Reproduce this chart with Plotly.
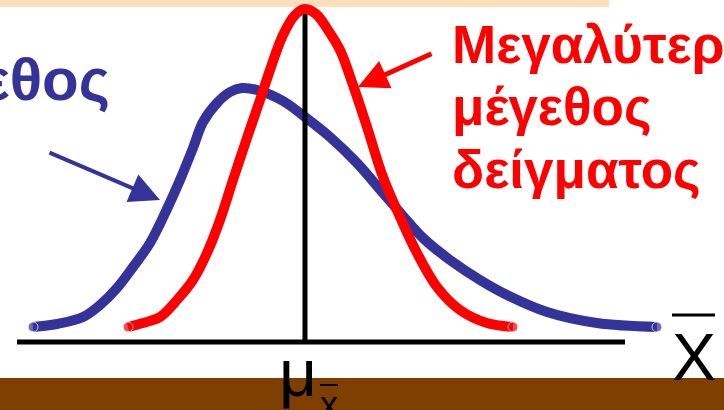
import plotly.graph_objects as go

# curve values (x relative to the mean, y = density height)
blue_x = [-2.72, -2.48, -2.22, -2.05, -1.88, -1.72, -1.55, -1.38, -1.25, -1.12, -1.02, -0.88, -0.75,
          -0.63, -0.48, -0.22, 0.0, 0.25, 0.52, 0.78, 0.98, 1.18, 1.45, 1.75, 2.02, 2.42, 2.92, 3.52]
blue_y = [0.15, 0.18, 0.25, 0.37, 0.54, 0.75, 0.99, 1.33, 1.62, 1.94, 2.20, 2.39, 2.50,
          2.54, 2.52, 2.41, 2.25, 2.05, 1.79, 1.49, 1.26, 1.04, 0.82, 0.62, 0.47, 0.30, 0.19, 0.15]

red_x = [-1.77, -1.62, -1.45, -1.28, -1.12, -0.98, -0.85, -0.72, -0.58, -0.45, -0.35, -0.22, -0.10,
         0.0, 0.11, 0.23, 0.35, 0.48, 0.62, 0.78, 0.95, 1.12, 1.32, 1.55, 1.82, 2.08]
red_y = [0.15, 0.19, 0.25, 0.42, 0.62, 0.89, 1.22, 1.62, 2.04, 2.42, 2.72, 3.07, 3.27,
         3.33, 3.28, 3.12, 2.92, 2.57, 2.15, 1.65, 1.25, 0.89, 0.55, 0.32, 0.19, 0.15]

axis_x = [-2.88, 3.20]
mean_height = 3.29

blue_label = "μέγεθος"
red_lines = ["Μεγαλύτερο", "μέγεθος", "δείγματος"]

BLUE = "#333399"
RED = "#FF0000"


def caps(n, s):
    return [s] + [0] * (n - 2) + [s]


fig = go.Figure()
fig.add_trace(go.Scatter(x=blue_x, y=blue_y, mode="lines+markers", line=dict(color=BLUE, width=10, shape="spline"),
                         marker=dict(size=caps(len(blue_x), 10), color=BLUE)))
fig.add_trace(go.Scatter(x=axis_x, y=[0, 0], mode="lines", line=dict(color="black", width=5)))
fig.add_trace(go.Scatter(x=[0, 0], y=[0, mean_height], mode="lines", line=dict(color="black", width=5)))
fig.add_trace(go.Scatter(x=red_x, y=red_y, mode="lines+markers", line=dict(color=RED, width=10, shape="spline"),
                         marker=dict(size=caps(len(red_x), 10), color=RED)))

# background bars
fig.add_shape(type="rect", xref="paper", yref="paper", x0=0, x1=1, y0=0, y1=32 / 410,
              fillcolor="#7F3F00", line_width=0, layer="below")
fig.add_shape(type="rect", xref="paper", yref="paper", x0=0, x1=609 / 724, y0=1 - 7 / 410, y1=1,
              fillcolor="#FDDFBB", line_width=0, layer="below")

# bars over x
fig.add_shape(type="line", x0=3.67, x1=4.10, y0=0.27, y1=0.27, line=dict(color="black", width=3))
fig.add_shape(type="line", x0=0.15, x1=0.33, y0=-0.43, y1=-0.43, line=dict(color="black", width=2))

fnt = "Liberation Sans"
fig.add_annotation(x=1.12 - 3.05, y=2.63, text=blue_label, showarrow=False, xanchor="right", yanchor="middle",
                   font=dict(family=fnt, size=60, color=BLUE, weight="bold"))
for i, ln in enumerate(red_lines):
    fig.add_annotation(x=1.45, y=2.98 - 0.63 * i, text=ln, showarrow=False, xanchor="left", yanchor="middle",
                       font=dict(family=fnt, size=53, color=RED, weight="bold"))

fig.add_annotation(x=3.885, y=-0.15, text="X", showarrow=False, xanchor="center", yanchor="middle",
                   font=dict(family=fnt, size=66, color="black"))
fig.add_annotation(x=-0.07, y=-0.31, text="μ", showarrow=False, xanchor="center", yanchor="middle",
                   font=dict(family=fnt, size=66, color="black"))
fig.add_annotation(x=0.24, y=-0.62, text="x", showarrow=False, xanchor="center", yanchor="middle",
                   font=dict(family=fnt, size=36, color="black"))

# arrows
fig.add_annotation(x=-1.45, y=1.42, ax=-112, ay=-48, text="", showarrow=True, arrowhead=2,
                   arrowsize=1.5, arrowwidth=4, arrowcolor=BLUE)
fig.add_annotation(x=0.53, y=2.55, ax=75, ay=-34, text="", showarrow=True, arrowhead=2,
                   arrowsize=1.2, arrowwidth=5, arrowcolor=RED)

fig.update_xaxes(range=[-3.05, 4.19], visible=False)
fig.update_yaxes(range=[-0.68, 3.42], visible=False)
fig.update_layout(width=724, height=410, margin=dict(l=0, r=0, t=0, b=0), showlegend=False,
                  plot_bgcolor="white", paper_bgcolor="white")
fig.write_html("out.html", config={"displayModeBar": False},
               post_script="document.body.style.margin='0';document.body.style.overflow='hidden';")
